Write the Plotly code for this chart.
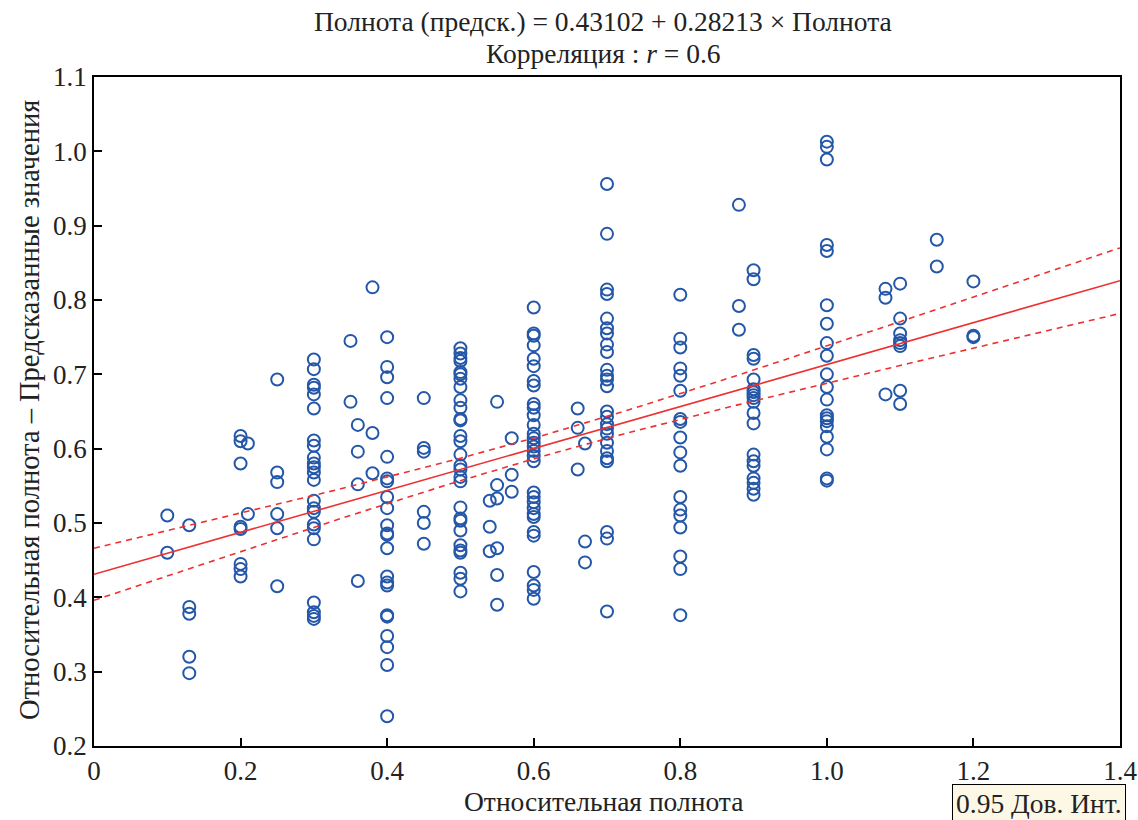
import numpy as np
import plotly.graph_objects as go

# ---- data ----
groups = {
    0.10: [0.51, 0.46],
    0.13: [0.497, 0.387, 0.378, 0.32, 0.298],
    0.20: [0.617, 0.61, 0.58, 0.495, 0.492, 0.445, 0.438, 0.428],
    0.21: [0.607, 0.512],
    0.25: [0.693, 0.568, 0.555, 0.512, 0.493, 0.415],
    0.30: [0.72, 0.707, 0.686, 0.682, 0.673, 0.654, 0.611, 0.604, 0.588, 0.58, 0.575, 0.568,
           0.558, 0.53, 0.52, 0.515, 0.498, 0.493, 0.478, 0.393, 0.38, 0.375, 0.371],
    0.35: [0.745, 0.663],
    0.36: [0.632, 0.596, 0.552, 0.422],
    0.38: [0.817, 0.621, 0.567],
    0.40: [0.75, 0.71, 0.696, 0.668, 0.589, 0.56, 0.556, 0.535, 0.52, 0.497, 0.486, 0.484,
           0.466, 0.428, 0.42, 0.416, 0.376, 0.374, 0.348, 0.333, 0.309, 0.24],
    0.45: [0.668, 0.601, 0.596, 0.515, 0.5, 0.472],
    0.50: [0.735, 0.728, 0.722, 0.718, 0.703, 0.7, 0.694, 0.683, 0.665, 0.655, 0.64, 0.638,
           0.617, 0.61, 0.592, 0.577, 0.572, 0.562, 0.556, 0.521, 0.506, 0.503, 0.49, 0.47,
           0.463, 0.46, 0.433, 0.425, 0.408],
    0.54: [0.53, 0.495, 0.462],
    0.55: [0.663, 0.551, 0.533, 0.466, 0.43, 0.39],
    0.57: [0.614, 0.565, 0.542],
    0.60: [0.79, 0.755, 0.752, 0.739, 0.721, 0.711, 0.691, 0.685, 0.66, 0.655, 0.645, 0.632,
           0.62, 0.614, 0.608, 0.603, 0.597, 0.59, 0.583, 0.541, 0.535, 0.528, 0.52, 0.512,
           0.508, 0.488, 0.483, 0.434, 0.416, 0.41, 0.398],
    0.66: [0.654, 0.628, 0.572],
    0.67: [0.607, 0.475, 0.447],
    0.70: [0.956, 0.889, 0.814, 0.808, 0.775, 0.762, 0.755, 0.74, 0.73, 0.706, 0.698, 0.693,
           0.684, 0.65, 0.643, 0.633, 0.627, 0.62, 0.608, 0.597, 0.587, 0.583, 0.488, 0.479, 0.381],
    0.80: [0.807, 0.748, 0.736, 0.708, 0.698, 0.678, 0.64, 0.636, 0.615, 0.595, 0.577, 0.535,
           0.518, 0.51, 0.494, 0.455, 0.438, 0.376],
    0.88: [0.928, 0.792, 0.76],
    0.90: [0.84, 0.828, 0.726, 0.721, 0.693, 0.68, 0.676, 0.672, 0.668, 0.663, 0.648, 0.634,
           0.592, 0.583, 0.577, 0.56, 0.554, 0.546, 0.538],
    1.00: [1.013, 1.006, 0.989, 0.874, 0.866, 0.793, 0.768, 0.742, 0.725, 0.7, 0.683, 0.666,
           0.645, 0.641, 0.637, 0.63, 0.616, 0.599, 0.56, 0.557],
    1.08: [0.815, 0.803, 0.673],
    1.10: [0.822, 0.775, 0.755, 0.746, 0.742, 0.738, 0.678, 0.66],
    1.15: [0.881, 0.845],
    1.20: [0.825, 0.752, 0.75],
}
intercept = 0.43102
slope = 0.28213

x_ticks = [0, 0.2, 0.4, 0.6, 0.8, 1.0, 1.2, 1.4]
x_ticktext = ["0", "0.2", "0.4", "0.6", "0.8", "1.0", "1.2", "1.4"]
y_ticks = [0.2, 0.3, 0.4, 0.5, 0.6, 0.7, 0.8, 0.9, 1.0, 1.1]
y_ticktext = ["0.2", "0.3", "0.4", "0.5", "0.6", "0.7", "0.8", "0.9", "1.0", "1.1"]

xs = np.array([k for k, v in groups.items() for _ in v])
ys = np.array([y for v in groups.values() for y in v])

# regression line and 95% confidence band
xl = np.linspace(0, 1.4, 141)
yl = intercept + slope * xl
n = len(xs)
resid = ys - (intercept + slope * xs)
s = np.sqrt(np.sum(resid ** 2) / (n - 2))
xbar = xs.mean()
sxx = np.sum((xs - xbar) ** 2)
half = 1.97 * s * np.sqrt(1.0 / n + (xl - xbar) ** 2 / sxx)

BLUE = "#2457a8"
RED = "#ee3030"
FONT = "Liberation Serif"
FS = 27.5

fig = go.Figure()
fig.add_trace(go.Scatter(x=xs, y=ys, mode="markers",
                         marker=dict(symbol="circle-open", size=12, color=BLUE,
                                     line=dict(width=2, color=BLUE)),
                         showlegend=False))
fig.add_trace(go.Scatter(x=xl, y=yl, mode="lines", line=dict(color=RED, width=1.6),
                         showlegend=False))
fig.add_trace(go.Scatter(x=xl, y=yl + half, mode="lines",
                         line=dict(color=RED, width=1.6, dash="6px,5px"), showlegend=False))
fig.add_trace(go.Scatter(x=xl, y=yl - half, mode="lines",
                         line=dict(color=RED, width=1.6, dash="6px,5px"), showlegend=False))

axis_common = dict(showgrid=False, zeroline=False, showline=True, linecolor="black",
                   linewidth=1.5, mirror=True, ticks="inside", ticklen=8, tickwidth=1.5,
                   tickcolor="black", automargin=False,
                   tickfont=dict(family=FONT, size=27, color="#222"))
fig.update_xaxes(range=[0, 1.4], tickvals=x_ticks, ticktext=x_ticktext, **axis_common)
fig.update_yaxes(range=[0.2, 1.1], tickvals=y_ticks, ticktext=y_ticktext, **axis_common)

def px_x(p):
    return (p - 94) / 1026.0

def px_y(p):
    return (746 - p) / 669.0

annotations = [
    dict(text="Полнота (предск.) = 0.43102 + 0.28213 × Полнота", x=px_x(603), y=px_y(22)),
    dict(text="Корреляция : <i>r</i> = 0.6", x=px_x(603), y=px_y(54)),
    dict(text="Относительная полнота", x=px_x(603), y=px_y(801)),
]
ann = []
for a in annotations:
    ann.append(dict(text=a["text"], x=a["x"], y=a["y"], xref="paper", yref="paper",
                    xanchor="center", yanchor="middle", showarrow=False,
                    font=dict(family=FONT, size=FS, color="#222")))
ann.append(dict(text="Относительная полнота – Предсказанные значения", x=px_x(29), y=px_y(410),
                xref="paper", yref="paper", xanchor="center", yanchor="middle",
                showarrow=False, textangle=-90,
                font=dict(family=FONT, size=28.5, color="#222")))
ann.append(dict(text="0.95 Дов. Инт.", x=px_x(1126), y=px_y(784), xref="paper", yref="paper",
                xanchor="right", yanchor="top", showarrow=False,
                bgcolor="#fdf7e6", bordercolor="black", borderwidth=1, borderpad=3,
                font=dict(family=FONT, size=FS, color="#222")))

fig.update_layout(width=1138, height=820, margin=dict(l=94, r=18, t=77, b=74),
                  plot_bgcolor="white", paper_bgcolor="white", annotations=ann)

fig.write_html("out.html")
